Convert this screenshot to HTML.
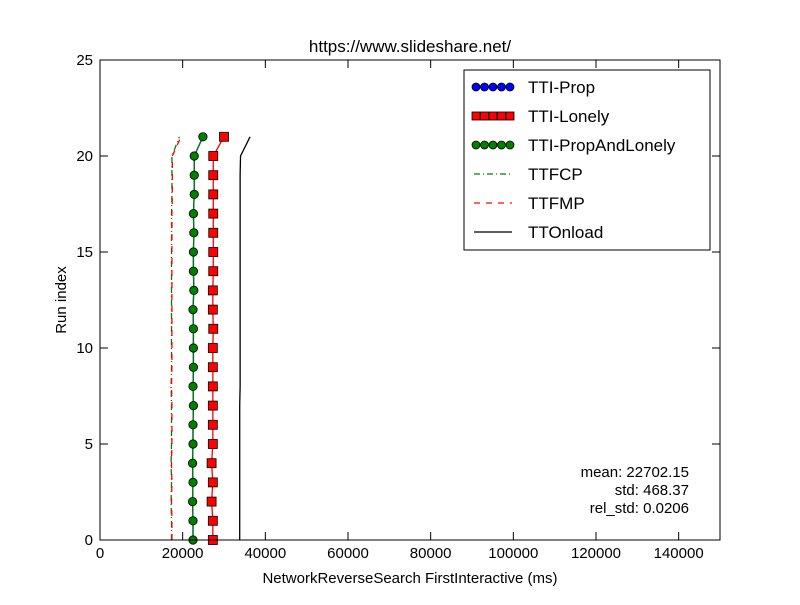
<!DOCTYPE html>
<html><head><meta charset="utf-8"><style>
body{margin:0;background:#fff}
svg{font-family:"Liberation Sans",sans-serif}
</style></head><body>
<svg id="chart" width="800" height="600" viewBox="0 0 800 600">
<rect width="800" height="600" fill="#fff"/>
<text x="410" y="52" font-size="17" text-anchor="middle">https://www.slideshare.net/</text>
<g id="plot"></g>
<rect x="100" y="60" width="620" height="480" fill="none" stroke="#000" stroke-width="1"/>
<g id="axes"></g>
<text x="410" y="583" font-size="15" text-anchor="middle">NetworkReverseSearch FirstInteractive (ms)</text>
<text x="66" y="300" font-size="15" text-anchor="middle" transform="rotate(-90 66 300)">Run index</text>
<g font-size="15" text-anchor="end">
<text x="689" y="477">mean: 22702.15</text>
<text x="689" y="495">std: 468.37</text>
<text x="689" y="513">rel_std: 0.0206</text>
</g>
<g id="legend">
<rect x="464" y="70" width="246" height="180" fill="#fff" stroke="#000"/>
</g>
</svg>
<script>
const runs=[0,1,2,3,4,5,6,7,8,9,10,11,12,13,14,15,16,17,18,19,20,21];
const ttiProp=[22500,22500,22400,22500,22400,22500,22500,22600,22500,22600,22600,22600,22500,22700,22600,22600,22700,22600,22800,22800,22800,24900];
const ttiLonely=[27300,27300,27000,27300,27000,27300,27300,27300,27300,27300,27300,27400,27300,27300,27400,27400,27400,27400,27400,27400,27400,30000];
const ttiPropAndLonely=ttiProp.slice();
const ttfcp=[17300,17300,17200,17300,17200,17300,17300,17300,17200,17300,17300,17300,17300,17300,17300,17300,17300,17300,17400,17400,17400,19200];
const ttfmp=[17400,17400,17300,17400,17300,17400,17400,17400,17300,17400,17400,17400,17400,17400,17400,17400,17400,17400,17500,17500,17500,19600];
const ttOnload=[33800,33800,33800,33800,33800,33800,33800,33800,33900,33900,33900,33900,33900,33900,33900,33900,33900,33900,33900,33900,34000,36300];
const xTicks=[0,20000,40000,60000,80000,100000,120000,140000];
const yTicks=[0,5,10,15,20,25];
const NS="http://www.w3.org/2000/svg";
const X=v=>100+v*620/150000, Y=v=>540-v*480/25;
const plot=document.getElementById('plot'), axes=document.getElementById('axes'), legend=document.getElementById('legend');
function el(t,a,p){const e=document.createElementNS(NS,t);for(const k in a)e.setAttribute(k,a[k]);p.appendChild(e);return e;}
function line(vals,stroke,dash,name){
  const p=el('polyline',{points:vals.map((v,i)=>X(v)+','+Y(runs[i])).join(' '),fill:'none',stroke:stroke,'stroke-width':1.3,'stroke-dasharray':dash||''},plot);
  
  
}
line(ttfcp,'#008000','6,3,1,3','ttfcp-line');
line(ttfmp,'#ff0000','6,6','ttfmp-line');
line(ttOnload,'#000','','ttonload-line');
line(ttiLonely,'#ff0000','','tti-lonely-line');
line(ttiProp,'#0000ff','','tti-prop-line');
line(ttiPropAndLonely,'#008000','','tti-propandlonely-line');
ttiLonely.forEach((v,i)=>{const r=el('rect',{x:X(v)-4.5,y:Y(runs[i])-4.5,width:9,height:9,fill:'#ff0000',stroke:'#000','stroke-width':0.8},plot);
  
  });
ttiPropAndLonely.forEach((v,i)=>{const c=el('circle',{cx:X(v),cy:Y(runs[i]),r:4.2,fill:'#008000',stroke:'#000','stroke-width':0.8},plot);
  
  });
xTicks.forEach(t=>{const x=X(t);
  el('line',{x1:x,y1:540,x2:x,y2:532,stroke:'#000'},axes);el('line',{x1:x,y1:60,x2:x,y2:68,stroke:'#000'},axes);
  const tx=el('text',{x:x,y:558,'font-size':15,'text-anchor':'middle'},axes);tx.textContent=t;
  
  });
yTicks.forEach(t=>{const y=Y(t);
  el('line',{x1:100,y1:y,x2:108,y2:y,stroke:'#000'},axes);el('line',{x1:720,y1:y,x2:712,y2:y,stroke:'#000'},axes);
  const tx=el('text',{x:93,y:y+5,'font-size':15,'text-anchor':'end'},axes);tx.textContent=t;
  
  });
const items=[['TTI-Prop','#0000ff','circle','#0000ff',''],['TTI-Lonely','#ff0000','square','#ff0000',''],['TTI-PropAndLonely','#008000','pent','#008000',''],['TTFCP','#008000','','', '6,3,1,3'],['TTFMP','#ff0000','','','6,6'],['TTOnload','#000','','','']];
items.forEach((it,i)=>{const y=87+i*29;const g=el('g',{},legend);
  
  
  el('line',{x1:474,y1:y,x2:512,y2:y,stroke:it[1],'stroke-width':1.3,'stroke-dasharray':it[4]},g);
  if(it[2]){for(let k=0;k<5;k++){const cx=476+k*8.5;
    if(it[2]==='square')el('rect',{x:cx-4,y:y-4,width:8,height:8,fill:it[3],stroke:'#000','stroke-width':0.8},g);
    else el('circle',{cx:cx,cy:y,r:4,fill:it[3],stroke:'#000','stroke-width':0.8},g);}}
  const t=el('text',{x:528,y:y+6,'font-size':17},g);t.textContent=it[0];});
</script>
</body></html>
